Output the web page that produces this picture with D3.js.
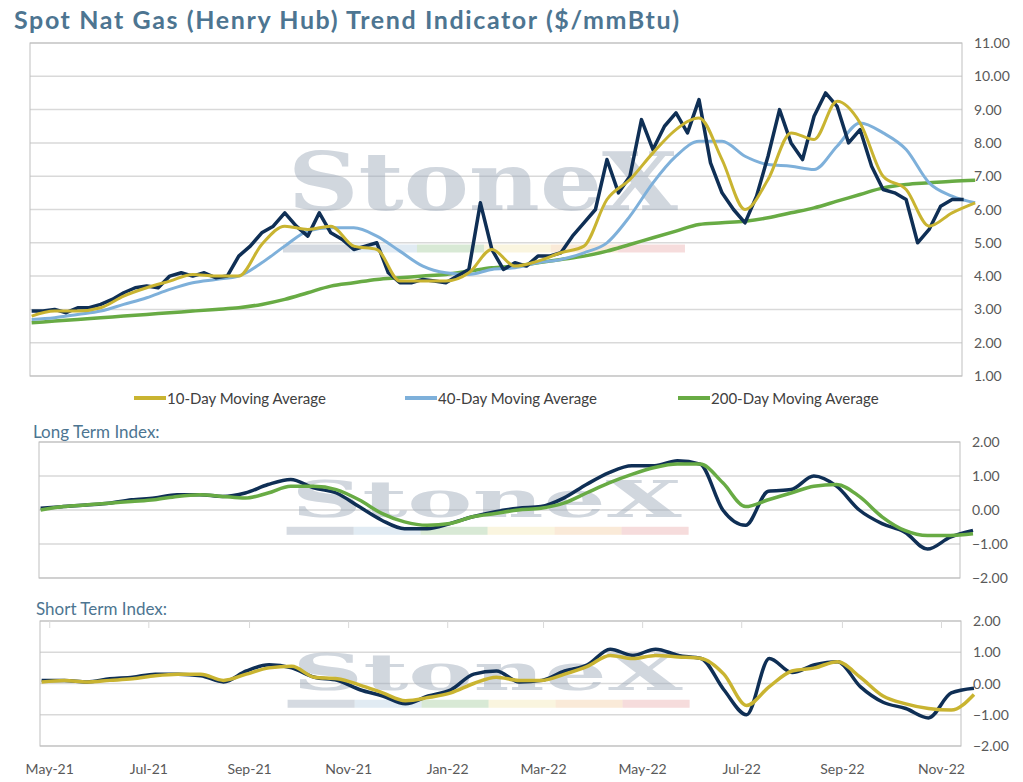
<!DOCTYPE html>
<html><head><meta charset="utf-8">
<script src="https://cdn.jsdelivr.net/npm/d3@7"></script>
<style>body{margin:0;background:#fff;font-family:Lato,"Open Sans",sans-serif}</style>
</head><body>
<svg id="chart" width="1023" height="782"></svg>
<script>
// weekly spot price, starting 2021-04-26
var spot = [2.95,2.95,3.0,2.9,3.05,3.05,3.15,3.3,3.5,3.65,3.7,3.65,4.0,4.1,4.0,4.1,3.95,4.0,4.6,4.9,5.3,5.5,5.9,5.5,5.2,5.9,5.3,5.1,4.8,4.9,5.0,4.1,3.8,3.8,3.9,3.85,3.8,4.0,4.2,6.2,4.8,4.2,4.4,4.3,4.6,4.6,4.7,5.2,5.6,6.0,7.5,6.5,7.0,8.7,7.8,8.5,8.9,8.3,9.3,7.4,6.5,6.0,5.6,6.4,7.6,9.0,8.0,7.5,8.8,9.5,9.1,8.0,8.4,7.3,6.6,6.5,6.3,5.0,5.4,6.1,6.3,6.3];
// biweekly averages, starting 2021-04-26 (last point 2022-11-14)
var ma10 = [2.8,2.95,2.95,3.05,3.4,3.65,3.85,4.05,4.0,4.0,4.95,5.5,5.4,5.5,4.9,4.8,3.85,3.85,3.85,4.1,4.8,4.3,4.45,4.7,4.9,6.3,6.9,7.7,8.4,8.75,7.5,6.0,6.9,8.3,8.1,9.25,8.6,7.0,6.6,5.5,5.9,6.2];
var ma40 = [2.7,2.75,2.85,2.95,3.15,3.35,3.6,3.8,3.9,4.0,4.4,4.9,5.35,5.45,5.45,5.2,4.75,4.3,4.1,4.05,4.2,4.25,4.4,4.5,4.7,5.0,5.8,6.8,7.6,8.05,8.05,7.6,7.35,7.3,7.2,7.9,8.6,8.3,7.8,6.8,6.4,6.2];
var ma200 = [2.6,2.65,2.7,2.75,2.8,2.85,2.9,2.95,3.0,3.05,3.15,3.3,3.5,3.7,3.8,3.9,3.95,4.0,4.05,4.15,4.25,4.3,4.4,4.5,4.6,4.75,4.95,5.15,5.35,5.55,5.6,5.65,5.75,5.9,6.05,6.25,6.45,6.65,6.75,6.8,6.85,6.88];
var longIdx = [0.05,0.1,0.15,0.2,0.3,0.35,0.45,0.45,0.4,0.5,0.75,0.9,0.65,0.5,0.1,-0.3,-0.55,-0.55,-0.4,-0.2,-0.05,0.05,0.1,0.35,0.75,1.1,1.3,1.3,1.45,1.35,0.0,-0.45,0.55,0.6,1.0,0.7,0.0,-0.4,-0.65,-1.15,-0.8,-0.6];
var longAvg = [0.0,0.1,0.15,0.2,0.25,0.3,0.4,0.45,0.4,0.35,0.5,0.7,0.7,0.6,0.3,-0.1,-0.35,-0.45,-0.4,-0.2,-0.1,0.0,0.05,0.2,0.5,0.8,1.05,1.25,1.35,1.35,0.8,0.1,0.3,0.5,0.7,0.75,0.4,-0.2,-0.6,-0.75,-0.75,-0.7];
var shortIdx = [0.1,0.1,0.05,0.15,0.2,0.3,0.3,0.25,0.05,0.4,0.6,0.5,0.2,0.1,-0.2,-0.4,-0.65,-0.4,-0.2,0.3,0.4,0.05,0.1,0.4,0.6,1.1,0.9,1.1,0.9,0.8,-0.2,-1.0,0.8,0.35,0.6,0.7,-0.1,-0.6,-0.8,-1.1,-0.3,-0.15];
var shortAvg = [0.05,0.1,0.05,0.1,0.15,0.25,0.3,0.3,0.1,0.3,0.5,0.55,0.2,0.15,-0.05,-0.3,-0.55,-0.45,-0.3,0.0,0.2,0.1,0.1,0.3,0.55,0.9,0.8,0.9,0.85,0.8,0.3,-0.7,-0.1,0.4,0.5,0.7,0.2,-0.4,-0.65,-0.8,-0.85,-0.35];
var priceTicks = [1,2,3,4,5,6,7,8,9,10,11];
var idxTicks = [-2,-1,0,1,2];
var monthTicks = ["2021-05-01","2021-07-01","2021-09-01","2021-11-01","2022-01-01","2022-03-01","2022-05-01","2022-07-01","2022-09-01","2022-11-01"];

var navy = "#0f2f55", gold = "#c9b431", blue = "#7eb0da", green = "#68ab44", titleCol = "#4d7591";
var start = new Date(2021, 3, 26);
var weekDates = spot.map((d, i) => d3.timeDay.offset(start, i * 7));
var biDates = ma10.map((d, i) => d3.timeDay.offset(start, i * 14));
var svg = d3.select("#chart");
var fmt = d3.format(".2f");

svg.append("text").attr("x", 14).attr("y", 29).attr("fill", titleCol)
    .attr("font-size", 25).attr("font-weight", "bold")
    .attr("textLength", 665).attr("lengthAdjust", "spacing")
    .text("Spot Nat Gas (Henry Hub) Trend Indicator ($/mmBtu)");

function panel(p) {
    let x = d3.scaleTime().domain([new Date(2021, 3, 25), new Date(2022, 10, 13)]).range([p.x0, p.x1]);
    let y = d3.scaleLinear().domain(p.dom).range([p.y1, p.y0]);
    let g = svg.append("g");
    g.selectAll(".grid").data(p.ticks).join("line")
        .attr("x1", p.x0).attr("x2", p.x1).attr("y1", d => y(d)).attr("y2", d => y(d))
        .attr("stroke", "#d9d9d9").attr("stroke-width", 1.5);
    g.append("rect").attr("x", p.x0).attr("y", p.y0).attr("width", p.x1 - p.x0).attr("height", p.y1 - p.y0)
        .attr("fill", "none").attr("stroke", "#bfbfbf");
    g.selectAll(".tl").data(p.ticks).join("text")
        .attr("x", p.x1 + 12).attr("y", d => y(d) + 5).attr("font-size", 14).attr("fill", "#595959")
        .text(d => fmt(d));
    // watermark
    let cx = p.x0 + (p.x1 - p.x0) * 0.486, cy = p.y0 + (p.y1 - p.y0) * p.wm;
    g.append("text").attr("x", cx).attr("y", cy).attr("text-anchor", "middle")
        .attr("font-family", "DejaVu Serif, serif").attr("font-weight", "bold").attr("font-size", p.wmSize)
        .attr("fill", "#9aa7b8").attr("opacity", 0.45)
        .attr("textLength", 390).attr("lengthAdjust", "spacingAndGlyphs").text("StoneX");
    ["#8795a8", "#a9c6de", "#8fbf86", "#f1e3a4", "#f0c290", "#e59b9b"].forEach((c, i) => {
        g.append("rect").attr("x", cx - 200 + i * 67).attr("y", cy + p.barOff).attr("width", 67).attr("height", 8)
            .attr("fill", c).attr("opacity", 0.35);
    });
    p.series.forEach(s => {
        g.append("path").datum(s.vals)
            .attr("d", d3.line().x((d, i) => x(s.dates[i])).y(d => y(d)).curve(s.curve || d3.curveMonotoneX))
            .attr("fill", "none").attr("stroke", s.color).attr("stroke-width", s.w)
            .attr("stroke-linejoin", "round");
    });
    return x;
}

panel({x0: 30, x1: 962, y0: 43, y1: 376, dom: [1, 11], ticks: priceTicks, wm: 0.5, wmSize: 80, barOff: 35,
    series: [
        {vals: ma200, dates: biDates, color: green, w: 3.5},
        {vals: ma40, dates: biDates, color: blue, w: 3},
        {vals: spot, dates: weekDates, color: navy, w: 3.5, curve: d3.curveLinear},
        {vals: ma10, dates: biDates, color: gold, w: 3}
    ]});

var legend = [["10-Day Moving Average", gold, 134], ["40-Day Moving Average", blue, 405], ["200-Day Moving Average", green, 678]];
legend.forEach(l => {
    svg.append("line").attr("x1", l[2]).attr("x2", l[2] + 32).attr("y1", 398).attr("y2", 398)
        .attr("stroke", l[1]).attr("stroke-width", 4);
    svg.append("text").attr("x", l[2] + 33).attr("y", 404).attr("font-size", 15).attr("fill", "#404040").text(l[0]);
});

svg.append("text").attr("x", 33).attr("y", 438).attr("font-size", 17).attr("fill", titleCol).text("Long Term Index:");
panel({x0: 39, x1: 960, y0: 442, y1: 578, dom: [-2, 2], ticks: idxTicks, wm: 0.55, wmSize: 50, barOff: 10,
    series: [
        {vals: longIdx, dates: biDates, color: navy, w: 3.5},
        {vals: longAvg, dates: biDates, color: green, w: 3.5}
    ]});

svg.append("text").attr("x", 36).attr("y", 615).attr("font-size", 17).attr("fill", titleCol).text("Short Term Index:");
var xb = panel({x0: 40, x1: 961, y0: 621, y1: 746, dom: [-2, 2], ticks: idxTicks, wm: 0.55, wmSize: 50, barOff: 10,
    series: [
        {vals: shortIdx, dates: biDates, color: navy, w: 3.5},
        {vals: shortAvg, dates: biDates, color: gold, w: 3.5}
    ]});

var mt = monthTicks.map(d => new Date(d + "T00:00:00"));
svg.selectAll(".vt").data(mt).join("line")
    .attr("x1", d => xb(d)).attr("x2", d => xb(d)).attr("y1", 621).attr("y2", 628).attr("stroke", "#d9d9d9");
svg.selectAll(".ml").data(mt).join("text")
    .attr("x", d => xb(d)).attr("y", 774).attr("text-anchor", "middle").attr("font-size", 14).attr("fill", "#595959")
    .text(d3.timeFormat("%b-%y"));
</script>
</body></html>
